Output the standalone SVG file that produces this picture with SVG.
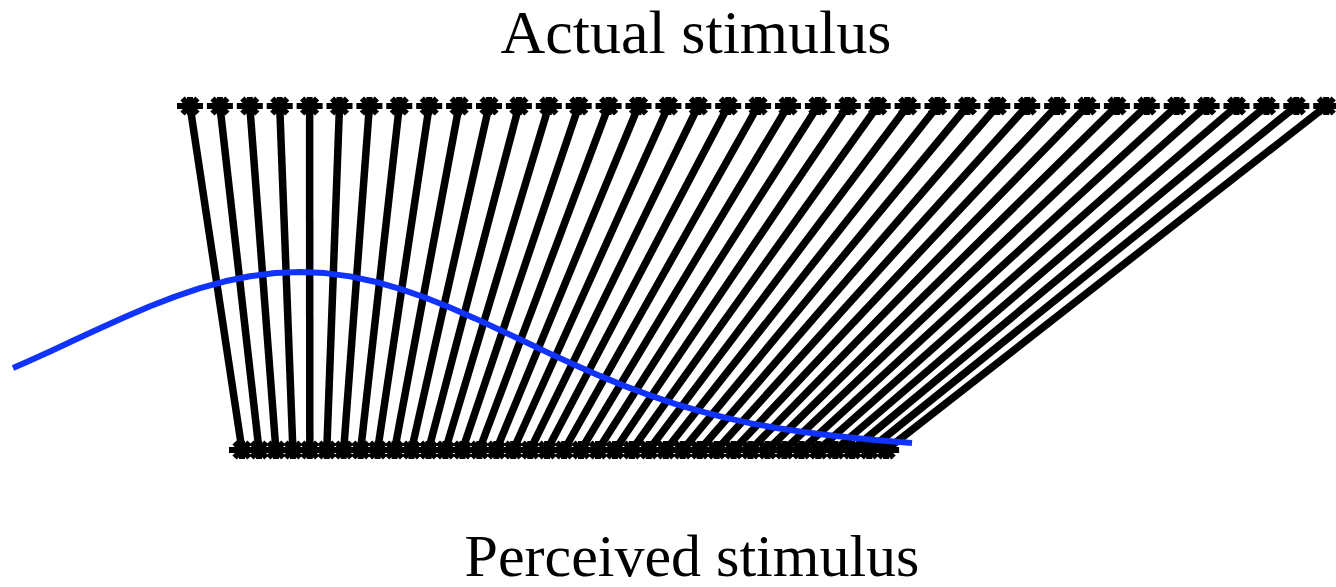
<svg xmlns="http://www.w3.org/2000/svg" xmlns:xlink="http://www.w3.org/1999/xlink" width="1336" height="587" viewBox="0 0 1336 587">
<style>
.lbl{font-family:"Liberation Serif","Times New Roman",serif;fill:#000;text-anchor:middle}
.conn line{stroke:#000;stroke-width:7.5}
.curve{fill:none;stroke:#1133ff;stroke-width:6;stroke-linejoin:round;stroke-linecap:butt}
</style>
<defs>
<path id="ast" d="M-13,0H13M0,-9V9M-7.5,-7.5L7.5,7.5M-7.5,7.5L7.5,-7.5" fill="none" stroke="#000" stroke-width="6"/>
</defs>
<rect width="1336" height="587" fill="#fff"/>
<g id="connectors" class="conn">
<line x1="190.0" y1="106" x2="242.0" y2="450"/>
<line x1="219.9" y1="106" x2="259.0" y2="450"/>
<line x1="249.8" y1="106" x2="275.9" y2="450"/>
<line x1="279.7" y1="106" x2="292.9" y2="450"/>
<line x1="309.6" y1="106" x2="309.8" y2="450"/>
<line x1="339.5" y1="106" x2="326.8" y2="450"/>
<line x1="369.4" y1="106" x2="343.7" y2="450"/>
<line x1="399.3" y1="106" x2="360.7" y2="450"/>
<line x1="429.2" y1="106" x2="377.6" y2="450"/>
<line x1="459.1" y1="106" x2="394.6" y2="450"/>
<line x1="489.0" y1="106" x2="411.5" y2="450"/>
<line x1="518.9" y1="106" x2="428.5" y2="450"/>
<line x1="548.8" y1="106" x2="445.4" y2="450"/>
<line x1="578.7" y1="106" x2="462.4" y2="450"/>
<line x1="608.6" y1="106" x2="479.3" y2="450"/>
<line x1="638.5" y1="106" x2="496.3" y2="450"/>
<line x1="668.4" y1="106" x2="513.2" y2="450"/>
<line x1="698.3" y1="106" x2="530.2" y2="450"/>
<line x1="728.2" y1="106" x2="547.1" y2="450"/>
<line x1="758.1" y1="106" x2="564.1" y2="450"/>
<line x1="788.0" y1="106" x2="581.0" y2="450"/>
<line x1="817.9" y1="106" x2="598.0" y2="450"/>
<line x1="847.8" y1="106" x2="614.9" y2="450"/>
<line x1="877.7" y1="106" x2="631.9" y2="450"/>
<line x1="907.6" y1="106" x2="648.8" y2="450"/>
<line x1="937.5" y1="106" x2="665.8" y2="450"/>
<line x1="967.4" y1="106" x2="682.7" y2="450"/>
<line x1="997.3" y1="106" x2="699.7" y2="450"/>
<line x1="1027.2" y1="106" x2="716.6" y2="450"/>
<line x1="1057.1" y1="106" x2="733.6" y2="450"/>
<line x1="1087.0" y1="106" x2="750.5" y2="450"/>
<line x1="1116.9" y1="106" x2="767.5" y2="450"/>
<line x1="1146.8" y1="106" x2="784.4" y2="450"/>
<line x1="1176.7" y1="106" x2="801.4" y2="450"/>
<line x1="1206.6" y1="106" x2="818.3" y2="450"/>
<line x1="1236.5" y1="106" x2="835.3" y2="450"/>
<line x1="1266.4" y1="106" x2="852.2" y2="450"/>
<line x1="1296.3" y1="106" x2="869.2" y2="450"/>
<line x1="1326.2" y1="106" x2="886.1" y2="450"/>
</g>
<g id="actual-markers">
<use href="#ast" x="190.0" y="106"/><use href="#ast" x="219.9" y="106"/><use href="#ast" x="249.8" y="106"/><use href="#ast" x="279.7" y="106"/><use href="#ast" x="309.6" y="106"/><use href="#ast" x="339.5" y="106"/><use href="#ast" x="369.4" y="106"/><use href="#ast" x="399.3" y="106"/><use href="#ast" x="429.2" y="106"/><use href="#ast" x="459.1" y="106"/><use href="#ast" x="489.0" y="106"/><use href="#ast" x="518.9" y="106"/><use href="#ast" x="548.8" y="106"/><use href="#ast" x="578.7" y="106"/><use href="#ast" x="608.6" y="106"/><use href="#ast" x="638.5" y="106"/><use href="#ast" x="668.4" y="106"/><use href="#ast" x="698.3" y="106"/><use href="#ast" x="728.2" y="106"/><use href="#ast" x="758.1" y="106"/><use href="#ast" x="788.0" y="106"/><use href="#ast" x="817.9" y="106"/><use href="#ast" x="847.8" y="106"/><use href="#ast" x="877.7" y="106"/><use href="#ast" x="907.6" y="106"/><use href="#ast" x="937.5" y="106"/><use href="#ast" x="967.4" y="106"/><use href="#ast" x="997.3" y="106"/><use href="#ast" x="1027.2" y="106"/><use href="#ast" x="1057.1" y="106"/><use href="#ast" x="1087.0" y="106"/><use href="#ast" x="1116.9" y="106"/><use href="#ast" x="1146.8" y="106"/><use href="#ast" x="1176.7" y="106"/><use href="#ast" x="1206.6" y="106"/><use href="#ast" x="1236.5" y="106"/><use href="#ast" x="1266.4" y="106"/><use href="#ast" x="1296.3" y="106"/><use href="#ast" x="1326.2" y="106"/>
</g>
<g id="perceived-markers">
<use href="#ast" x="242.0" y="450"/><use href="#ast" x="259.0" y="450"/><use href="#ast" x="275.9" y="450"/><use href="#ast" x="292.9" y="450"/><use href="#ast" x="309.8" y="450"/><use href="#ast" x="326.8" y="450"/><use href="#ast" x="343.7" y="450"/><use href="#ast" x="360.7" y="450"/><use href="#ast" x="377.6" y="450"/><use href="#ast" x="394.6" y="450"/><use href="#ast" x="411.5" y="450"/><use href="#ast" x="428.5" y="450"/><use href="#ast" x="445.4" y="450"/><use href="#ast" x="462.4" y="450"/><use href="#ast" x="479.3" y="450"/><use href="#ast" x="496.3" y="450"/><use href="#ast" x="513.2" y="450"/><use href="#ast" x="530.2" y="450"/><use href="#ast" x="547.1" y="450"/><use href="#ast" x="564.1" y="450"/><use href="#ast" x="581.0" y="450"/><use href="#ast" x="598.0" y="450"/><use href="#ast" x="614.9" y="450"/><use href="#ast" x="631.9" y="450"/><use href="#ast" x="648.8" y="450"/><use href="#ast" x="665.8" y="450"/><use href="#ast" x="682.7" y="450"/><use href="#ast" x="699.7" y="450"/><use href="#ast" x="716.6" y="450"/><use href="#ast" x="733.6" y="450"/><use href="#ast" x="750.5" y="450"/><use href="#ast" x="767.5" y="450"/><use href="#ast" x="784.4" y="450"/><use href="#ast" x="801.4" y="450"/><use href="#ast" x="818.3" y="450"/><use href="#ast" x="835.3" y="450"/><use href="#ast" x="852.2" y="450"/><use href="#ast" x="869.2" y="450"/><use href="#ast" x="886.1" y="450"/>
</g>
<g id="curve">
<polyline class="curve" points="13,368 25,362.8 50,351.4 75,339.8 100,328.3 125,317 150,306.3 175,296.6 200,288.2 225,281.3 250,276.2 275,273.1 300,272 325,273.1 350,276.4 375,281.7 400,288.8 425,297.5 450,307.5 475,318.4 500,330 525,341.8 550,353.6 575,365 600,375.9 625,386.1 650,395.4 675,403.8 700,411.2 725,417.6 750,423.1 775,427.7 800,431.5 825,434.8 850,437.6 875,440 912,443"/>
</g>
<g id="labels">
<text class="lbl" x="696" y="53" font-size="62">Actual stimulus</text>
<text class="lbl" x="692" y="576" font-size="60">Perceived stimulus</text>
</g>
</svg>
